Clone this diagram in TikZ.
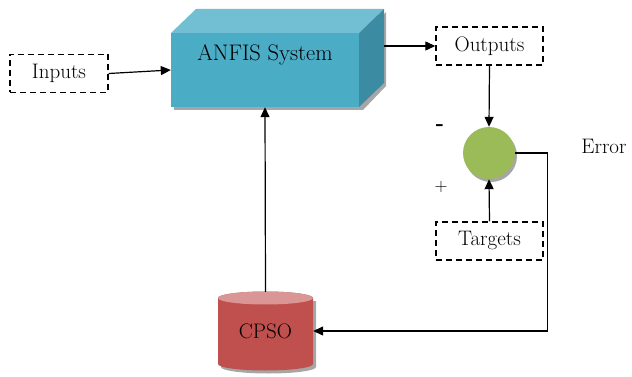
\documentclass[tikz,border=0pt]{standalone}
\usepackage{fontspec}
\usetikzlibrary{arrows.meta}
\definecolor{aquaF}{HTML}{4BACC6}
\definecolor{aquaT}{HTML}{72BED3}
\definecolor{aquaR}{HTML}{3B8CA2}
\definecolor{greenC}{HTML}{9BBB59}
\definecolor{redB}{HTML}{C0504D}
\definecolor{redT}{HTML}{D99694}
\definecolor{shadowc}{HTML}{A6A6A6}
\begin{document}
\begin{tikzpicture}[x=1pt,y=1pt,
  lbl/.style={font=\fontsize{21}{23}\selectfont},
  dbox/.style={draw,dashed,dash pattern=on 6pt off 4pt,line width=1.4pt,minimum height=38,inner sep=0pt,lbl},
  conn/.style={line width=1.2pt,-{Triangle[length=10pt,width=9pt]}},
  plain/.style={line width=1.2pt}]
\useasboundingbox (0,0) rectangle (632,-377);
% ANFIS prism shadow
\fill[shadowc] (174,-36) rectangle (363,-110);
\fill[shadowc] (363,-110) -- (386,-86) -- (386,-12) -- (363,-36) -- cycle;
% prism faces
\fill[aquaT] (171,-33) -- (196,-9) -- (384,-9) -- (359,-33) -- cycle;
\fill[aquaR] (359,-33) -- (384,-9) -- (384,-83) -- (359,-107) -- cycle;
\node[fill=aquaF,minimum width=188,minimum height=74,inner sep=0pt] (anfis) at (265,-70) {};
\node[font=\fontsize{22.5}{24}\selectfont] (anfislabel) at (265,-55) {ANFIS System};
\coordinate (anfisout) at (384,-46);
% Inputs
\node[dbox,minimum width=98] (inputs) at (59,-73.5) {Inputs};
% Outputs
\node[dbox,minimum width=107] (outputs) at (489.5,-46) {Outputs};
% Targets
\node[dbox,minimum width=107] (targets) at (489.5,-241) {Targets};
% summing circle
\fill[shadowc] (491,-156) circle (26);
\node[circle,fill=greenC,minimum size=52,inner sep=0pt] (err) at (489,-153) {};
\node[font=\fontsize{22}{24}\selectfont\bfseries] (minus) at (440,-128) {-};
\node[font=\fontsize{18}{20}\selectfont] (plus) at (441,-187) {+};
\node[lbl] (errlabel) at (604,-146) {Error};
% CPSO cylinder
\fill[shadowc] (221,-301) -- (221,-367) arc[start angle=180,end angle=360,x radius=47.5,y radius=6.5] -- (316,-301) -- cycle;
\fill[redB] (218,-298) -- (218,-364) arc[start angle=180,end angle=360,x radius=47.5,y radius=6.5] -- (313,-298) arc[start angle=0,end angle=180,x radius=47.5,y radius=6.5] -- cycle;
\fill[redT] (265.5,-298) ellipse[x radius=47.5,y radius=6.5];
\node[lbl,minimum width=95,minimum height=78,inner sep=0pt] (cpso) at (265.5,-331) {CPSO};
% connectors
\draw[conn] (inputs.east) -- (anfis.west);
\draw[conn] (anfisout) -- (outputs.west);
\draw[conn] (outputs.south) -- (err.north);
\draw[conn] (targets.north) -- (err.south);
\draw[conn] (err.east) -- ++(32,0) |- (cpso.east);
\draw[conn] (cpso.north) -- (anfis.south);
\end{tikzpicture}
\end{document}
